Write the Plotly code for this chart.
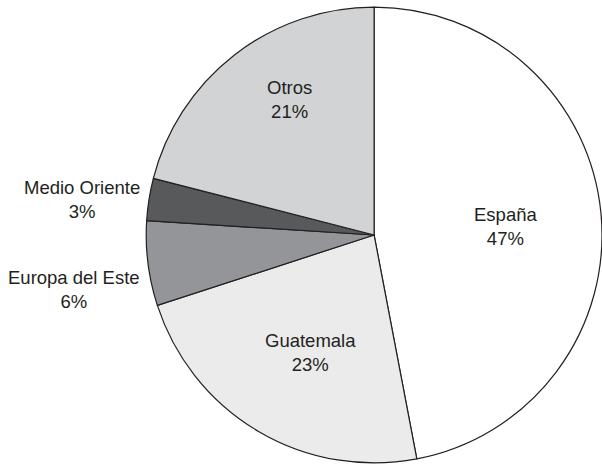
import plotly.graph_objects as go

labels = ["España", "Guatemala", "Europa del Este", "Medio Oriente", "Otros"]
values = [47, 23, 6, 3, 21]
colors = ["#ffffff", "#ebebec", "#939598", "#58595b", "#d1d3d4"]

# label positions in pixels (x, y from top) — layout only
label_pos = [(505.7, 226.5), (310.5, 352), (73.8, 289), (81.7, 199.5), (289.5, 99)]

W, H = 602, 468
cx, cy, r = 375.7, 235.0, 229.5

total = sum(values)
fig = go.Figure(go.Pie(
    labels=labels, values=values, sort=False, direction="clockwise", rotation=0,
    marker=dict(colors=colors, line=dict(color="#231f20", width=1.2)),
    textinfo="none",
    domain=dict(x=[(cx - r) / W, min(1, (cx + r) / W)], y=[(H - cy - r) / H, (H - cy + r) / H]),
    showlegend=False, hoverinfo="skip",
))
for lab, val, (px, py) in zip(labels, values, label_pos):
    fig.add_annotation(
        x=px / W, y=1 - py / H, xref="paper", yref="paper",
        text=f"{lab}<br>{round(100 * val / total)}%", showarrow=False,
        xanchor="center", yanchor="middle", align="center",
        font=dict(family="Liberation Sans, Arial", size=18.5, color="#231f20"),
    )
fig.update_layout(width=W, height=H, margin=dict(l=0, r=0, t=0, b=0),
                  paper_bgcolor="white", plot_bgcolor="white")
fig.write_html("out.html", config={"displayModeBar": False},
               post_script="document.body.style.margin='0px';document.body.style.overflow='hidden';")
